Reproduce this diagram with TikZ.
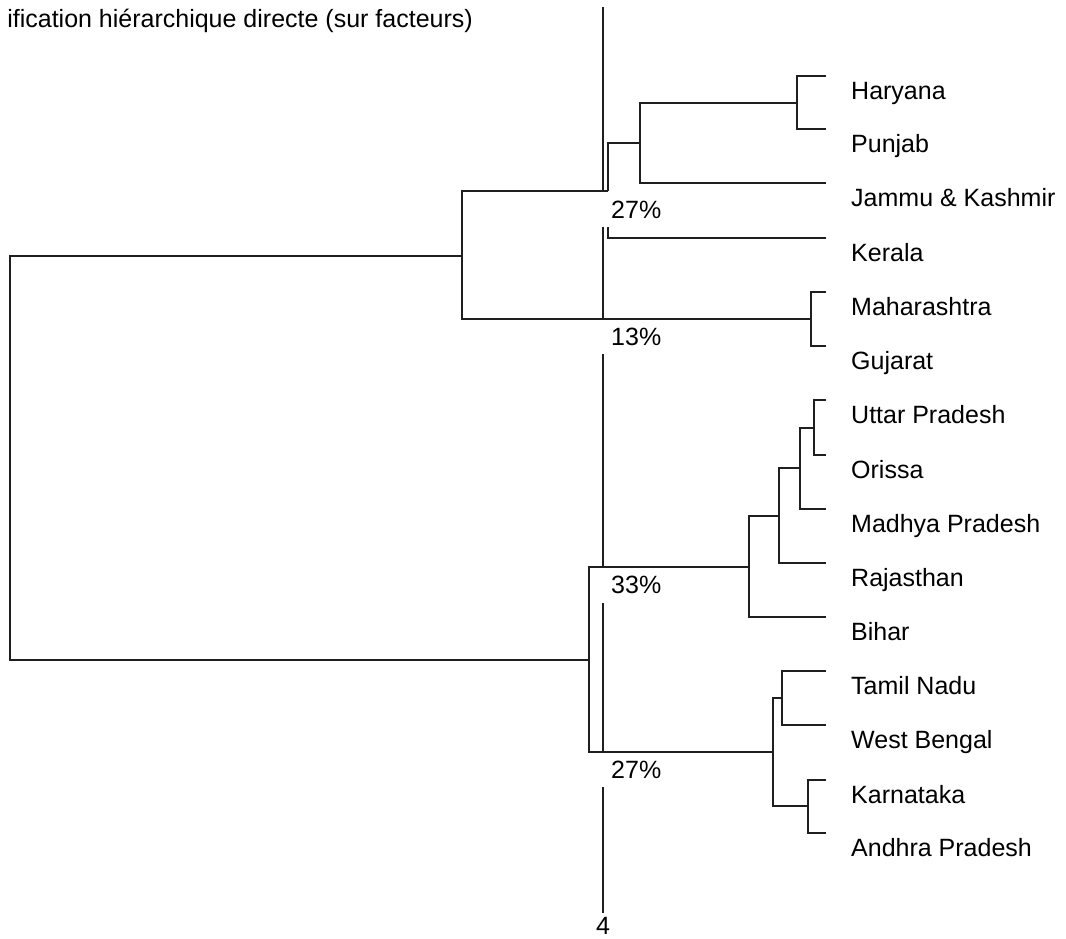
\documentclass[tikz,border=0pt]{standalone}
\usepackage{fontspec}
\setmainfont{Liberation Sans}
\begin{document}
\begin{tikzpicture}[x=1pt,y=-1pt,
  branch/.style={line width=2.8pt, line join=miter, black!88},
  cutline/.style={line width=2.8pt, black!88},
  lbl/.style={inner sep=0pt, font=\fontsize{25}{30}\selectfont, text=black},
  leaflabel/.style={lbl, anchor=base west},
  pct/.style={lbl, anchor=base west},
]
\useasboundingbox (0,0) rectangle (1066,938);
\clip (0,0) rectangle (1066,938);

% title (clipped at the left in the original)
\node[lbl, anchor=base east] (title) at (473,27) {ification hiérarchique directe (sur facteurs)};

% leaves
\foreach \n/\y/\t in {hary/76/Haryana, punj/129/Punjab, jamm/183/Jammu \& Kashmir,
  kera/238/Kerala, maha/292/Maharashtra, guja/346/Gujarat, utta/400/Uttar Pradesh,
  oris/455/Orissa, madh/509/Madhya Pradesh, raja/563/Rajasthan, biha/617/Bihar,
  tami/671/Tamil Nadu, west/725/West Bengal, karn/780/Karnataka, andh/833/Andhra Pradesh}{
  \coordinate (l\n) at (826,\y);
  \node[leaflabel] (t\n) at (851,\y+23) {\t};
}

% internal junctions
\coordinate (hp) at (797,103);
\coordinate (hpj) at (640,143);
\coordinate (hpjk) at (608,191);
\coordinate (gk) at (608,227);
\coordinate (mg) at (811,319);
\coordinate (top) at (462,256);
\coordinate (upo) at (814,428);
\coordinate (upomp) at (800,468);
\coordinate (upompr) at (779,516);
\coordinate (nb) at (749,567);
\coordinate (tw) at (782,698);
\coordinate (ka) at (808,806);
\coordinate (twka) at (773,752);
\coordinate (bot) at (589,660);
\coordinate (root) at (10,458);

% branches
\draw[branch] (lhary) -| (hp) |- (lpunj);
\draw[branch] (hp) -| (hpj) |- (ljamm);
\draw[branch] (hpj) -| (hpjk);
\draw[branch] (lkera) -| (gk);
\draw[branch] (lmaha) -| (mg) |- (lguja);
\draw[branch] (hpjk) -| (top) |- (mg);
\draw[branch] (lutta) -| (upo) |- (loris);
\draw[branch] (upo) -| (upomp) |- (lmadh);
\draw[branch] (upomp) -| (upompr) |- (lraja);
\draw[branch] (upompr) -| (nb) |- (lbiha);
\draw[branch] (ltami) -| (tw) |- (lwest);
\draw[branch] (lkarn) -| (ka) |- (landh);
\draw[branch] (tw) -| (twka) |- (ka);
\draw[branch] (nb) -| (bot) |- (twka);
\draw[branch] (top) -| (root) |- (bot);

% cut line
\coordinate (k0) at (603,7);
\coordinate (k1) at (603,192);
\coordinate (k2) at (603,227);
\coordinate (k3) at (603,319);
\coordinate (k4) at (603,354);
\coordinate (k5) at (603,567);
\coordinate (k6) at (603,603);
\coordinate (k7) at (603,752);
\coordinate (k8) at (603,787);
\coordinate (k9) at (603,913);
\draw[cutline] (k0) -- (k1);
\draw[cutline] (k2) -- (k3);
\draw[cutline] (k4) -- (k5);
\draw[cutline] (k6) -- (k7);
\draw[cutline] (k8) -- (k9);

% percentages
\node[pct] (p1) at (611,218) {27\%};
\node[pct] (p2) at (611,345) {13\%};
\node[pct] (p3) at (611,593) {33\%};
\node[pct] (p4) at (611,778) {27\%};
\node[lbl, anchor=base] (cutval) at (603,934) {4};
\end{tikzpicture}
\end{document}
